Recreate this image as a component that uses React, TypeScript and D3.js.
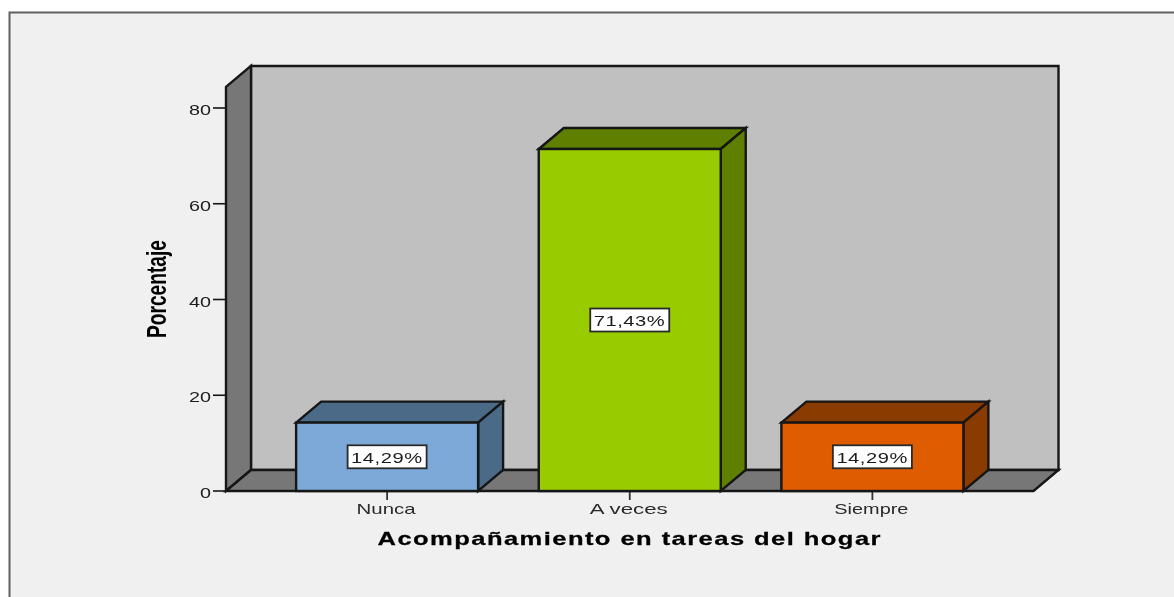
import React from "react";
import * as d3 from "d3";

const categories = ["Nunca", "A veces", "Siempre"];
const values = [14.29, 71.43, 14.29];
const valueLabels = ["14,29%", "71,43%", "14,29%"];
const frontColors = ["#7ba9d8", "#99cc00", "#e05c00"];
const sideColors = ["#4c6a88", "#5f7f00", "#8a3a00"];
const yTicks = [0, 20, 40, 60, 80];
const categoryLabelWidths = [59, 78, 74];

const W = 1174;
const H = 597;
const dx = 25;
const dy = 21;
const y = d3.scaleLinear().domain([0, 80]).range([491, 108]);
const x = d3.scaleBand<string>().domain(categories).range([226, 1033.5]).paddingInner(0.25).paddingOuter(0.289);
const line = d3.line();
const closed = (pts: [number, number][]) => line(pts) + "Z";
const plotTopValue = 84.4;
const ink = "#161616";
const font = "'Liberation Sans', Arial, sans-serif";
const titleStretch = 1.42;
const valueStretch = 1.3;

export default function App() {
  const x0 = x.range()[0];
  const x1 = x.range()[1];
  const y0 = y(0);
  const yT = y(plotTopValue);
  return (
    <svg
      width={W}
      height={H}
      viewBox={`0 0 ${W} ${H}`}
      style={{ position: "fixed", left: 0, top: 0, display: "block", background: "#fff" }}
    >
      <defs>
        <filter id="soft" filterUnits="userSpaceOnUse" x="0" y="0" width={W} height={H}>
          <feGaussianBlur stdDeviation="0.6" />
        </filter>
      </defs>
      <g filter="url(#soft)">
        <rect x={0} y={0} width={W} height={H} fill="#fff" />
        <rect x={9.5} y={12.5} width={W} height={H} fill="#f0f0f0" stroke="#606060" strokeWidth={2} />
        {/* back wall */}
        <path d={closed([[x0 + dx, yT - dy], [x1 + dx, yT - dy], [x1 + dx, y0 - dy], [x0 + dx, y0 - dy]])} fill="#c0c0c0" stroke={ink} strokeWidth={2.4} />
        {/* left wall */}
        <path d={closed([[x0, yT], [x0 + dx, yT - dy], [x0 + dx, y0 - dy], [x0, y0]])} fill="#777777" stroke={ink} strokeWidth={2.4} />
        {/* floor */}
        <path d={closed([[x0, y0], [x0 + dx, y0 - dy], [x1 + dx, y0 - dy], [x1, y0]])} fill="#777777" stroke={ink} strokeWidth={2.4} />
        {/* y axis */}
        {yTicks.map((t) => (
          <g key={t}>
            <line x1={x0 - 13} x2={x0} y1={y(t)} y2={y(t)} stroke={ink} strokeWidth={1.6} />
            <text
              x={x0 - 15}
              y={y(t) + 7}
              textAnchor="end"
              fontFamily={font}
              fontSize={14.5}
              fill="#1c1c1c"
              textLength={String(t).length === 1 ? 11 : 22}
              lengthAdjust="spacingAndGlyphs"
            >
              {t}
            </text>
          </g>
        ))}
        {/* bars */}
        {categories.map((c, i) => {
          const l = x(c)!;
          const r = l + x.bandwidth();
          const top = y(values[i]);
          const cx = (l + r) / 2;
          const midY = (top + y0) / 2;
          const bw = 79;
          const bh = 23;
          return (
            <g key={c}>
              <line x1={cx} x2={cx} y1={y0} y2={y0 + 9} stroke="#333" strokeWidth={1.8} />
              <path d={closed([[l, top], [l + dx, top - dy], [r + dx, top - dy], [r, top]])} fill={sideColors[i]} stroke={ink} strokeWidth={2.4} />
              <path d={closed([[r, top], [r + dx, top - dy], [r + dx, y0 - dy], [r, y0]])} fill={sideColors[i]} stroke={ink} strokeWidth={2.4} />
              <rect x={l} y={top} width={x.bandwidth()} height={y0 - top} fill={frontColors[i]} stroke={ink} strokeWidth={2.4} />
              <rect x={cx - bw / 2} y={midY - bh / 2} width={bw} height={bh} fill="#fff" stroke="#2a2a2a" strokeWidth={1.8} />
              <text
                x={(cx - 0.5) / valueStretch}
                y={midY + 6}
                textAnchor="middle"
                fontFamily={font}
                fontSize={15.5}
                fill="#1c1c1c"
                textLength={71 / valueStretch}
                lengthAdjust="spacing"
                transform={`scale(${valueStretch},1)`}
              >
                {valueLabels[i]}
              </text>
              <text
                x={cx - 1}
                y={y0 + 23}
                textAnchor="middle"
                fontFamily={font}
                fontSize={14.5}
                fill="#2a2a2a"
                textLength={categoryLabelWidths[i]}
                lengthAdjust="spacingAndGlyphs"
              >
                {c}
              </text>
            </g>
          );
        })}
        {/* axis titles */}
        <text
          x={629 / titleStretch}
          y={545}
          textAnchor="middle"
          fontFamily={font}
          fontWeight="bold"
          fontSize={18}
          fill="#000"
          stroke="#000"
          strokeWidth={0.25}
          textLength={503 / titleStretch}
          lengthAdjust="spacing"
          transform={`scale(${titleStretch},1)`}
        >
          Acompañamiento en tareas del hogar
        </text>
        <text
          transform="translate(166,289) rotate(-90)"
          textAnchor="middle"
          fontFamily={font}
          fontWeight="bold"
          fontSize={28}
          fill="#000"
          textLength={98}
          lengthAdjust="spacingAndGlyphs"
        >
          Porcentaje
        </text>
      </g>
    </svg>
  );
}
